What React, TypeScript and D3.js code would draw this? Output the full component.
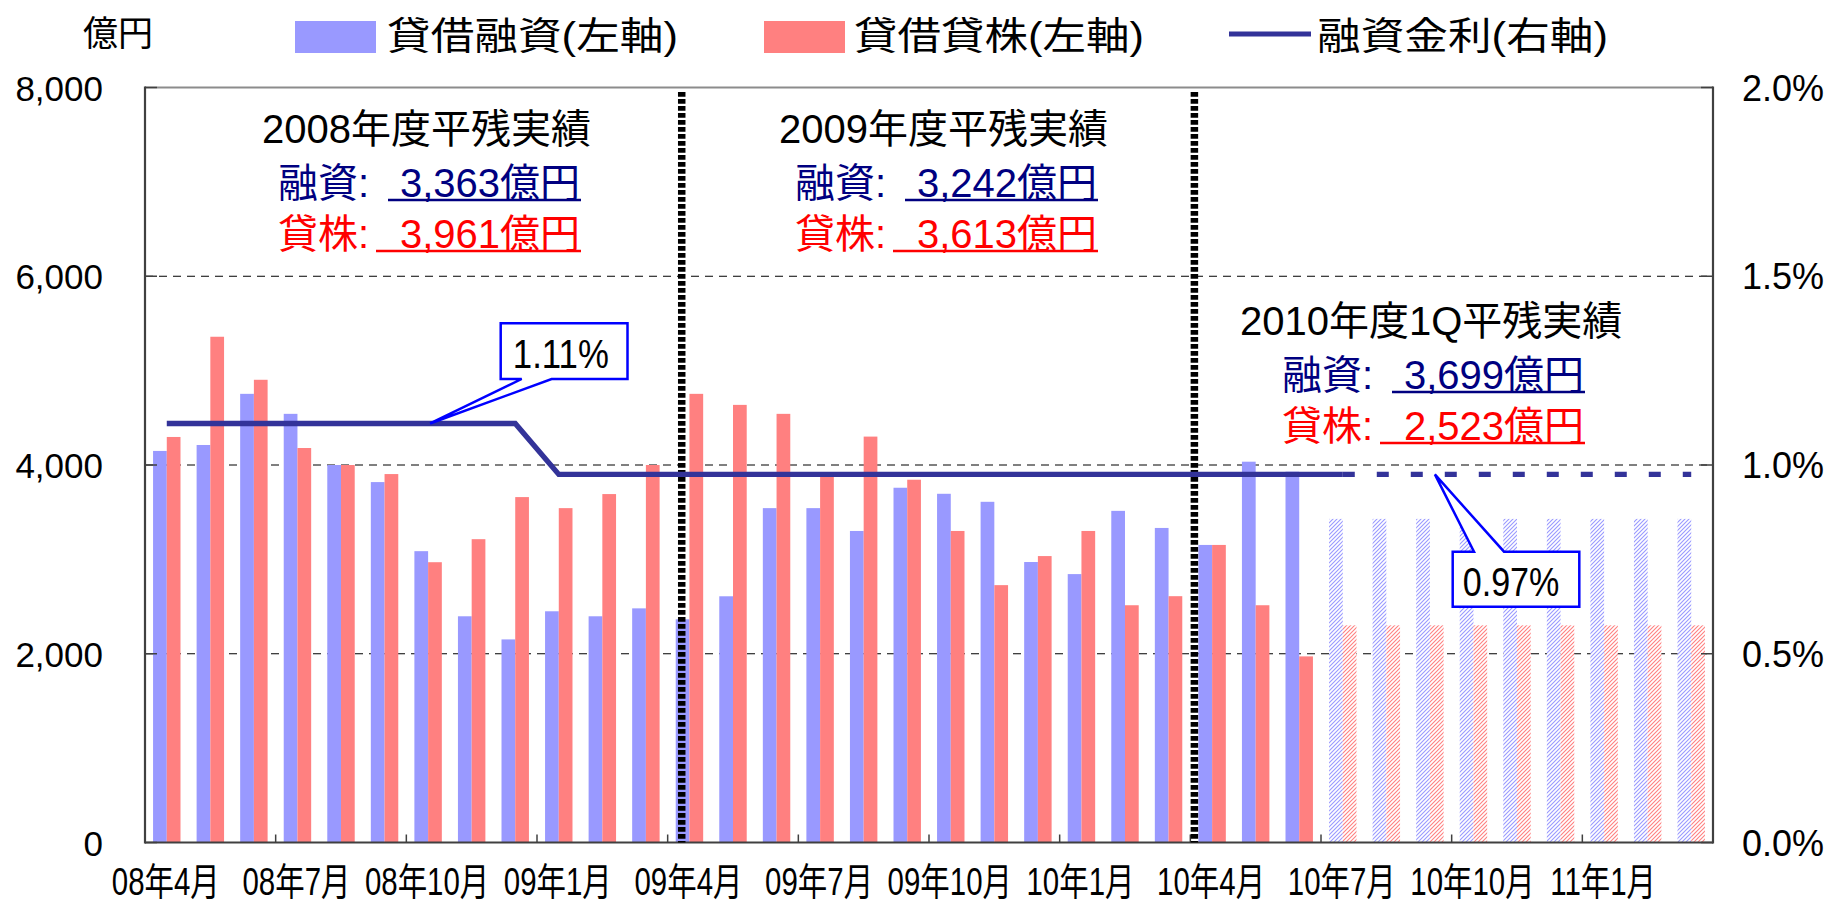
import React from 'react';
import * as d3 from 'd3';

// 月次カテゴリ
const months = [
  '08年4月', '08年5月', '08年6月', '08年7月', '08年8月', '08年9月',
  '08年10月', '08年11月', '08年12月', '09年1月', '09年2月', '09年3月',
  '09年4月', '09年5月', '09年6月', '09年7月', '09年8月', '09年9月',
  '09年10月', '09年11月', '09年12月', '10年1月', '10年2月', '10年3月',
  '10年4月', '10年5月', '10年6月', '10年7月', '10年8月', '10年9月',
  '10年10月', '10年11月', '10年12月', '11年1月', '11年2月', '11年3月',
];

// 貸借融資（億円, 左軸）
const lendingLoans = [
  4149, 4212, 4754, 4542, 4000, 3819, 3087, 2397, 2152, 2450, 2397, 2481,
  2365, 2609, 3543, 3543, 3301, 3759, 3695, 3610, 2972, 2844, 3514, 3333,
  3153, 4035, 3929, 3429, 3429, 3429, 3429, 3429, 3429, 3429, 3429, 3429,
];

// 貸借貸株（億円, 左軸）
const lendingStocks = [
  4297, 5359, 4903, 4180, 4000, 3904, 2970, 3214, 3660, 3543, 3692, 4000,
  4754, 4637, 4542, 3890, 4301, 3844, 3301, 2727, 3035, 3301, 2514, 2610,
  3153, 2514, 1972, 2301, 2301, 2301, 2301, 2301, 2301, 2301, 2301, 2301,
];

// 融資金利（%, 右軸）
const loanRate = [
  1.11, 1.11, 1.11, 1.11, 1.11, 1.11, 1.11, 1.11, 1.11, 0.975, 0.975, 0.975,
  0.975, 0.975, 0.975, 0.975, 0.975, 0.975, 0.975, 0.975, 0.975, 0.975, 0.975, 0.975,
  0.975, 0.975, 0.975, 0.975, 0.975, 0.975, 0.975, 0.975, 0.975, 0.975, 0.975, 0.975,
];

const forecastStart = 27; // 10年7月以降は見込み

const xTickLabels = ['08年4月', '08年7月', '08年10月', '09年1月', '09年4月', '09年7月',
  '09年10月', '10年1月', '10年4月', '10年7月', '10年10月', '11年1月'];
const leftTicks = [0, 2000, 4000, 6000, 8000];
const rightTicks = [0, 0.5, 1.0, 1.5, 2.0];

const summaries = [
  { title: '2008年度平残実績', loans: '3,363億円', stocks: '3,961億円' },
  { title: '2009年度平残実績', loans: '3,242億円', stocks: '3,613億円' },
  { title: '2010年度1Q平残実績', loans: '3,699億円', stocks: '2,523億円' },
];

const FONT = '"Liberation Sans", "Noto Sans CJK JP", sans-serif';
const BLUE = '#9999FF';
const RED = '#FF8080';
const LINE = '#333399';

const W = 1833, H = 904;
const M = { left: 145, right: 1713, top: 87.5, bottom: 842.5 };

// 注記ブロックの配置
const summaryPos = [
  { tx: 262, ty: 143, lx: 278, nx: 400, ul2: 388, ul3: 376 },
  { tx: 779, ty: 143, lx: 795, nx: 917, ul2: 905, ul3: 893 },
  { tx: 1240, ty: 335, lx: 1282, nx: 1404, ul2: 1392, ul3: 1380 },
];

export default function App() {
  const x = d3.scaleBand<string>()
    .domain(months)
    .range([M.left, M.right])
    .paddingInner(0.37)
    .paddingOuter(0.185);
  const step = x.step();
  const bw = x.bandwidth() / 2;
  const cx = (i: number) => (x(months[i]) as number) + x.bandwidth() / 2;
  const yL = d3.scaleLinear().domain([0, 8000]).range([M.bottom, M.top]);
  const yR = d3.scaleLinear().domain([0, 2]).range([M.bottom, M.top]);

  const line = d3.line<number>().x((_, i) => cx(i)).y(d => yR(d));
  const solidPath = line(loanRate.slice(0, forecastStart + 1)) || '';
  const dashedPath = d3.line<number>()
    .x((_, i) => cx(i + forecastStart))
    .y(d => yR(d))(loanRate.slice(forecastStart)) || '';

  // 年度区切り
  const splits = [
    (x('09年4月') as number) + 6,
    (x('10年4月') as number) - 4,
  ];

  // 吹き出し
  const tip1 = { x: cx(6) + 2, y: yR(loanRate[6]) };
  const tip2 = { x: cx(29) + 5, y: yR(loanRate[29]) };

  return (
    <>
      <style>{`body{margin:0;background:#fff}`}</style>
      <svg width={W} height={H} style={{ display: 'block', fontFamily: FONT }}>
        <defs>
          <pattern id="hatchBlue" width="4" height="4" patternUnits="userSpaceOnUse">
            <rect width="4" height="4" fill="#fff" />
            <path d="M-1,1 l2,-2 M0,4 l4,-4 M3,5 l2,-2" stroke={BLUE} strokeWidth="1.1" />
          </pattern>
          <pattern id="hatchRed" width="4" height="4" patternUnits="userSpaceOnUse">
            <rect width="4" height="4" fill="#fff" />
            <path d="M-1,1 l2,-2 M0,4 l4,-4 M3,5 l2,-2" stroke={RED} strokeWidth="1.1" />
          </pattern>
        </defs>

        {/* 凡例 */}
        <text x={118} y={46} fontSize={35} textAnchor="middle">億円</text>
        <rect x={295} y={21} width={81} height={32} fill={BLUE} />
        <text x={387} y={49} fontSize={38} textLength={291} lengthAdjust="spacingAndGlyphs">貸借融資(左軸)</text>
        <rect x={764} y={21} width={81} height={32} fill={RED} />
        <text x={854} y={49} fontSize={38} textLength={290} lengthAdjust="spacingAndGlyphs">貸借貸株(左軸)</text>
        <line x1={1229} x2={1311} y1={34} y2={34} stroke={LINE} strokeWidth={5} />
        <text x={1317} y={49} fontSize={38} textLength={291} lengthAdjust="spacingAndGlyphs">融資金利(右軸)</text>

        {/* グリッド */}
        {leftTicks.filter(t => t > 0 && t < 8000).map(t => (
          <line key={t} x1={M.left} x2={M.right} y1={yL(t)} y2={yL(t)}
            stroke="#000" strokeWidth={1} strokeDasharray="8,6" />
        ))}

        {/* 棒 */}
        {months.map((m, i) => {
          const x0 = x(m) as number;
          const fc = i >= forecastStart;
          return (
            <g key={m}>
              <rect x={x0} y={yL(lendingLoans[i])} width={bw} height={M.bottom - yL(lendingLoans[i])}
                fill={fc ? 'url(#hatchBlue)' : BLUE} />
              <rect x={x0 + bw} y={yL(lendingStocks[i])} width={bw} height={M.bottom - yL(lendingStocks[i])}
                fill={fc ? 'url(#hatchRed)' : RED} />
            </g>
          );
        })}

        {/* 軸 */}
        <line x1={M.left} x2={M.right} y1={M.top} y2={M.top} stroke="#8c8c8c" strokeWidth={2} />
        <line x1={M.left} x2={M.left} y1={M.top - 1} y2={M.bottom + 1} stroke="#404040" strokeWidth={2.2} />
        <line x1={M.right} x2={M.right} y1={M.top - 1} y2={M.bottom + 1} stroke="#404040" strokeWidth={2.2} />
        <line x1={M.left} x2={M.right} y1={M.bottom} y2={M.bottom} stroke="#404040" strokeWidth={2.2} />
        {leftTicks.map(t => (
          <g key={t}>
            <line x1={M.left} x2={M.left + 12} y1={yL(t)} y2={yL(t)} stroke="#404040" strokeWidth={1.5} />
            <text x={103} y={yL(t) + 13} fontSize={35} textAnchor="end">{d3.format(',')(t)}</text>
          </g>
        ))}
        {rightTicks.map(t => (
          <g key={t}>
            <line x1={M.right - 12} x2={M.right} y1={yR(t)} y2={yR(t)} stroke="#404040" strokeWidth={1.5} />
            <text x={1742} y={yR(t) + 13} fontSize={36}>{t.toFixed(1)}%</text>
          </g>
        ))}
        {d3.range(3, months.length, 3).map(k => (
          <line key={k} x1={M.left + k * step} x2={M.left + k * step} y1={M.bottom} y2={M.bottom - 8}
            stroke="#404040" strokeWidth={1.5} />
        ))}
        {xTickLabels.map(l => (
          <text key={l} fontSize={38} textAnchor="middle"
            transform={`translate(${(x(l) as number) + x.bandwidth() / 2 - 1},895) scale(0.775,1)`}>{l}</text>
        ))}

        {/* 年度区切り */}
        {splits.map((sx, i) => (
          <line key={i} x1={sx} x2={sx} y1={92} y2={M.bottom} stroke="#000" strokeWidth={7.5}
            strokeDasharray="4.7,2.3" />
        ))}

        {/* 融資金利 */}
        <path d={solidPath} fill="none" stroke={LINE} strokeWidth={5.3} />
        <path d={dashedPath} fill="none" stroke={LINE} strokeWidth={5.3} strokeDasharray="12,22" />

        {/* 吹き出し */}
        <path d={`M500.7,323.3 H627.5 V379 H551.6 L${tip1.x},${tip1.y} L521.7,379 H500.7 Z`}
          fill="#fff" stroke="#0000FF" strokeWidth={2.5} strokeLinejoin="miter" />
        <text x={512.8} y={368} fontSize={40} textLength={96} lengthAdjust="spacingAndGlyphs">1.11%</text>
        <path d={`M1452.7,551.7 H1474 L${tip2.x},${tip2.y} L1504,551.7 H1579.3 V606.7 H1452.7 Z`}
          fill="#fff" stroke="#0000FF" strokeWidth={2.5} />
        <text x={1462.7} y={596} fontSize={40} textLength={96.7} lengthAdjust="spacingAndGlyphs">0.97%</text>

        {/* 平残実績 */}
        {summaries.map((s, i) => {
          const p = summaryPos[i];
          const numW = 181;
          return (
            <g key={s.title} fontSize={40}>
              <text x={p.tx} y={p.ty} fill="#000">{s.title}</text>
              <text x={p.lx} y={p.ty + 54} fill="#000080">融資:</text>
              <text x={p.nx} y={p.ty + 54} fill="#000080">{s.loans}</text>
              <line x1={p.ul2} x2={p.nx + numW} y1={p.ty + 57} y2={p.ty + 57} stroke="#000080" strokeWidth={2.5} />
              <text x={p.lx} y={p.ty + 105} fill="#FF0000">貸株:</text>
              <text x={p.nx} y={p.ty + 105} fill="#FF0000">{s.stocks}</text>
              <line x1={p.ul3} x2={p.nx + numW} y1={p.ty + 108} y2={p.ty + 108} stroke="#FF0000" strokeWidth={2.5} />
            </g>
          );
        })}
      </svg>
    </>
  );
}
